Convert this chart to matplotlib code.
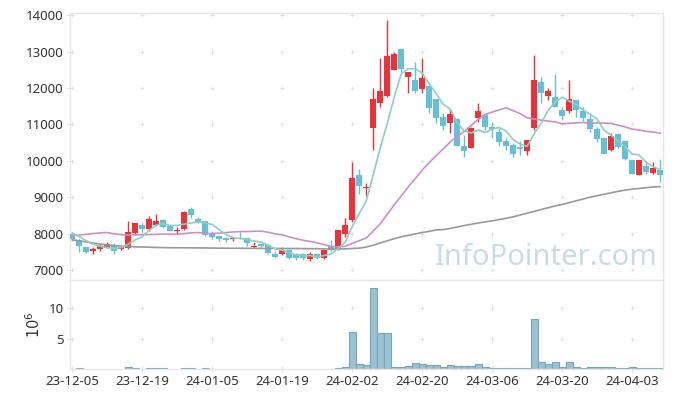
import matplotlib
matplotlib.use("Agg")
import matplotlib.pyplot as plt
import numpy as np
import pandas as pd

plt.rcParams['font.family'] = ['Noto Sans', 'DejaVu Sans']

# daily OHLC, one entry per trading day (index 0 = 23-12-05)
opens = [8000, 7810, 7620, 7510, 7570, 7610, 7690, 7570, 7600, 8010,
         8230, 8120, 8240, 8370, 8200, 8080, 8130, 8670, 8400, 8340,
         8000, 7940, 7880, 7850, 7890, 7870, 7620, 7700, 7690, 7430,
         7430, 7550, 7430, 7430, 7300, 7430, 7320, 7660, 7570, 7990,
         8360, 9610, 9240, 10890, 11590, 11780, 12490, 13060, 12310, 12210,
         11970, 12050, 11690, 11210, 11040, 11160, 10400, 10360, 11180, 11250,
         10920, 10800, 10540, 10430, 10370, 10270, 10890, 12170, 11780, 11740,
         11390, 11370, 11660, 11370, 11160, 10870, 10630, 10300, 10730, 10540,
         10020, 9610, 9860, 9660, 9740]
highs = [8050, 7840, 7640, 7640, 7700, 7780, 7730, 7650, 8350, 8300,
         8290, 8480, 8530, 8410, 8220, 8170, 8610, 8740, 8460, 8350,
         8060, 7960, 7910, 7900, 8050, 7880, 7760, 7710, 7700, 7520,
         7640, 7570, 7480, 7480, 7490, 7470, 7570, 7820, 8110, 8420,
         9970, 9770, 9400, 11990, 12810, 13880, 12990, 13060, 12440, 12720,
         12810, 12060, 11700, 11320, 11410, 11170, 10720, 10920, 11580, 11320,
         11070, 10890, 10630, 10490, 10550, 10580, 12900, 12290, 12010, 12380,
         11470, 12220, 11670, 11470, 11250, 10930, 10650, 10770, 10770, 10550,
         10030, 10030, 9990, 9970, 10040]
lows = [7800, 7500, 7470, 7430, 7530, 7600, 7430, 7540, 7590, 7970,
        8030, 8080, 8220, 8150, 8060, 7990, 8100, 8440, 8300, 7930,
        7850, 7790, 7780, 7790, 7850, 7670, 7610, 7640, 7430, 7340,
        7420, 7300, 7280, 7270, 7250, 7310, 7310, 7520, 7560, 7910,
        8330, 9100, 9030, 10290, 11480, 11740, 12480, 12440, 11850, 11870,
        11870, 11320, 11040, 10840, 10750, 10400, 10090, 10350, 11070, 10840,
        10620, 10400, 10290, 10090, 10160, 10160, 10840, 11580, 11670, 11480,
        11120, 11300, 11210, 11100, 10800, 10520, 10180, 10270, 10340, 10020,
        9630, 9600, 9630, 9650, 9420]
closes = [7850, 7660, 7490, 7570, 7670, 7700, 7510, 7630, 8040, 8280,
          8120, 8390, 8340, 8190, 8080, 8110, 8580, 8500, 8330, 7950,
          7900, 7850, 7830, 7880, 7870, 7740, 7660, 7670, 7460, 7370,
          7550, 7340, 7340, 7320, 7430, 7340, 7550, 7560, 8100, 8240,
          9520, 9310, 9290, 11710, 11910, 12870, 12930, 12510, 12430, 11910,
          12260, 11460, 11170, 10950, 11280, 10410, 10280, 10890, 11370, 10930,
          10870, 10520, 10400, 10180, 10320, 10570, 12230, 11870, 11920, 11480,
          11230, 11710, 11390, 11170, 10870, 10590, 10190, 10680, 10390, 10050,
          9640, 10020, 9690, 9810, 9610]
# volume in millions of shares
volumes = [0.1, 0.3, 0.1, 0.1, 0.1, 0.1, 0.1, 0.1, 0.5, 0.3,
           0.1, 0.3, 0.3, 0.3, 0.1, 0.1, 0.3, 0.3, 0.1, 0.3,
           0.1, 0.1, 0.1, 0.1, 0.1, 0.1, 0.1, 0.1, 0.1, 0.1,
           0.1, 0.1, 0.1, 0.1, 0.1, 0.1, 0.1, 0.1, 0.3, 0.5,
           6.1, 1.0, 0.8, 13.2, 6.0, 6.0, 0.5, 0.5, 0.65, 1.1,
           1.0, 0.8, 0.8, 0.5, 0.8, 0.65, 0.65, 0.65, 1.0, 0.5,
           0.3, 0.3, 0.3, 0.3, 0.3, 0.3, 8.2, 1.3, 1.0, 1.3,
           0.5, 1.3, 0.5, 0.3, 0.5, 0.5, 0.5, 0.5, 0.3, 0.3,
           0.5, 0.3, 0.3, 0.3, 0.3]

# moving-average values before enough closes are on screen
ma5_head = [8010, 7920, 7800, 7710]
ma20_head = [7940, 7960, 7980, 8000, 8020, 8030, 7990, 7970, 7960, 7965,
             7970, 7975, 7980, 7985, 7985, 7980, 8000, 8020, 8030]
# long moving average
ma_long = [7830, 7800, 7770, 7740, 7710, 7690, 7670, 7655, 7645, 7635,
           7630, 7625, 7620, 7615, 7612, 7610, 7610, 7608, 7606, 7605,
           7603, 7600, 7598, 7597, 7596, 7595, 7594, 7593, 7592, 7591,
           7590, 7589, 7588, 7587, 7586, 7585, 7580, 7570, 7575, 7580,
           7590, 7600, 7630, 7680, 7740, 7800, 7860, 7910, 7950, 7990,
           8030, 8060, 8100, 8110, 8140, 8180, 8220, 8255, 8290, 8320,
           8350, 8385, 8420, 8460, 8510, 8560, 8610, 8660, 8710, 8760,
           8800, 8850, 8900, 8950, 9000, 9040, 9080, 9120, 9160, 9195,
           9220, 9240, 9260, 9280, 9290]

tick_labels = ['23-12-05', '23-12-19', '24-01-05', '24-01-19', '24-02-02',
               '24-02-20', '24-03-06', '24-03-20', '24-04-03']

UP = '#ee3138'
DOWN = '#64bfd8'
EDGE = '#e6e6e6'

df = pd.DataFrame({'open': opens, 'high': highs, 'low': lows,
                   'close': closes, 'vol': volumes})
x = np.arange(len(df))
ma5 = df['close'].rolling(5).mean().to_numpy()
ma5[:4] = ma5_head
ma20 = df['close'].rolling(20).mean().to_numpy()
ma20[:19] = ma20_head

fig = plt.figure(figsize=(6.73, 3.98), dpi=100)
ax = fig.add_axes([0.104, 0.2965, 0.881, 0.6705])
axv = fig.add_axes([0.104, 0.0736, 0.881, 0.2229], sharex=ax)

up = df['close'] >= df['open']
colors = np.where(up, UP, DOWN)
body_lo = np.minimum(df['open'], df['close'])
body_h = np.maximum((df['close'] - df['open']).abs(), 18)

ax.vlines(x, df['low'], df['high'], colors=colors, linewidth=1.0, zorder=2)
ax.bar(x, body_h, bottom=body_lo, width=0.82, color=colors, linewidth=0, zorder=3)

ax.plot(x, ma_long, color='#999999', linewidth=1.2, zorder=4)
ax.plot(x, ma20, color='#cc8ec8', linewidth=1.2, zorder=4)
ax.plot(x, ma5, color='#8ccfc4', linewidth=1.2, zorder=4)

ax.text(0.803, 0.086, 'InfoPointer.com', transform=ax.transAxes,
        ha='center', va='center', fontsize=21, color='#c9dbe5', zorder=1)

axv.bar(x, df['vol'], width=1.0, color='#9bc1d2', edgecolor='#74a7bd',
        linewidth=0.8, zorder=2)

xticks = np.arange(0, len(df), 10)
ax.set_xlim(-0.33, 84.4)
ax.set_ylim(6725, 14055)
yticks = np.arange(7000, 14001, 1000)
ax.set_yticks(yticks)
ax.set_yticklabels([str(v) for v in yticks])
axv.set_ylim(0.26, 14.56)
axv.set_yticks([5, 10])
axv.set_yticklabels(['5', '10'])
axv.set_xticks(xticks)
axv.set_xticklabels(tick_labels)
axv.set_ylabel('$10^6$', fontsize=10.5, color='#333333', labelpad=3)
plt.setp(ax.get_xticklabels(), visible=False)

# "+" grid markers at the tick crossings
gx, gy = np.meshgrid(xticks, yticks)
ax.scatter(gx.ravel(), gy.ravel(), marker='+', s=10, color='#e0e0e0',
           linewidths=0.7, zorder=0)
gx, gy = np.meshgrid(xticks, [5, 10])
axv.scatter(gx.ravel(), gy.ravel(), marker='+', s=10, color='#e0e0e0',
            linewidths=0.7, zorder=0)

for a in (ax, axv):
    for s in a.spines.values():
        s.set_color(EDGE)
        s.set_linewidth(1.0)
    a.tick_params(direction='inout', length=5, width=0.8, color='#dddddd',
                  labelsize=9.5, labelcolor='#333333', pad=2)
    a.set_facecolor('white')
ax.tick_params(axis='x', length=0)

fig.savefig('out.png', dpi=100)
